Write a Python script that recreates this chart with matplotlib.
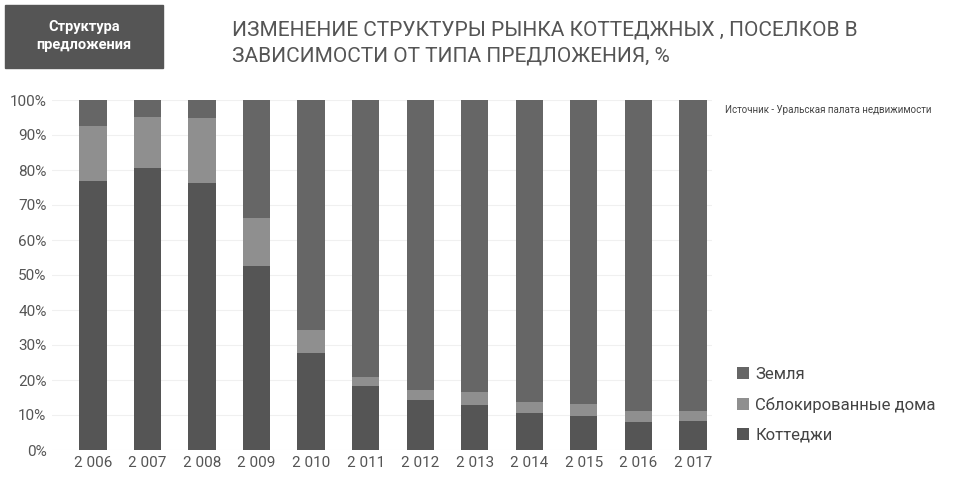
import matplotlib
matplotlib.use("Agg")
import matplotlib.pyplot as plt
import numpy as np

years = ["2 006","2 007","2 008","2 009","2 010","2 011","2 012","2 013","2 014","2 015","2 016","2 017"]
cottages = [76.9,80.6,76.3,52.6,27.7,18.3,14.3,12.9,10.6,9.7,8.0,8.3]
blocked = [15.7,14.5,18.6,13.7,6.6,2.6,2.8,3.7,3.1,3.4,3.1,2.8]
land = [100-c-b for c,b in zip(cottages,blocked)]

plt.rcParams['font.family'] = ['Roboto', 'DejaVu Sans']
fig = plt.figure(figsize=(9.57,4.83), dpi=100)
ax = fig.add_axes([52/957, 33/483, (712-52)/957, 350/483])
x = np.arange(len(years))
w = 0.5
c1, c2, c3 = "#555555", "#8f8f8f", "#666666"
ax.bar(x, cottages, w, color=c1, label="Коттеджи", zorder=2)
ax.bar(x, blocked, w, bottom=cottages, color=c2, label="Сблокированные дома", zorder=2)
ax.bar(x, land, w, bottom=np.array(cottages)+np.array(blocked), color=c3, label="Земля", zorder=2)
ax.set_ylim(0,100)
ax.set_xlim(-0.75, 11.35)
ax.set_yticks(range(0,101,10))
ax.set_yticklabels([f"{v}%" for v in range(0,101,10)], color="#555555", fontsize=11)
ax.set_xticks(x)
ax.set_xticklabels(years, color="#555555", fontsize=11)
ax.grid(axis='y', color="#f0f0f0", lw=0.8, zorder=0)
for s in ax.spines.values(): s.set_visible(False)
ax.tick_params(length=0, pad=4)
h, l = ax.get_legend_handles_labels()
fig.legend(h[::-1], l[::-1], loc="lower left", bbox_to_anchor=(722/957, 25/483), frameon=False,
           fontsize=12, labelcolor="#444444", handlelength=0.7, handleheight=0.7, handletextpad=0.4, labelspacing=0.9)

fig.patches.append(matplotlib.patches.Rectangle((5/957, 1-68/483), 158/957, 63/483, transform=fig.transFigure, color="#555555"))
fig.text(84/957, 1-36/483, "Структура\nпредложения", ha="center", va="center", color="white", fontsize=10.5, fontweight="bold", linespacing=1.4)
fig.text(232/957, 1-43/483, "ИЗМЕНЕНИЕ СТРУКТУРЫ РЫНКА КОТТЕДЖНЫХ , ПОСЕЛКОВ В\nЗАВИСИМОСТИ ОТ ТИПА ПРЕДЛОЖЕНИЯ, %", ha="left", va="center",
         color="#555555", fontsize=15, linespacing=1.5)
fig.text(725/957, 1-110/483, "Источник - Уральская палата недвижимости", fontsize=7, color="#444444", va="center")
fig.savefig("out.png", dpi=100)
